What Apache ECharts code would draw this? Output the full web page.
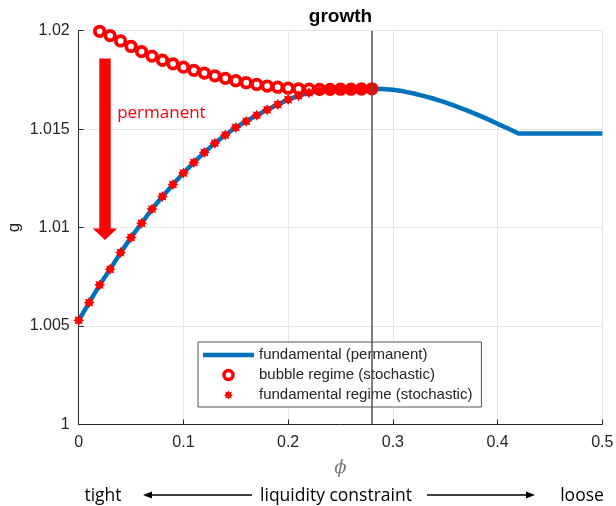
<!DOCTYPE html>
<html>
<head>
<meta charset="utf-8">
<script src="https://cdn.jsdelivr.net/npm/echarts@6/dist/echarts.min.js"></script>
<style>
html,body{margin:0;padding:0;background:#fff;}
#chart{width:616px;height:506px;}
</style>
</head>
<body>
<div id="chart"></div>
<script>
// ---- data ----
const phiFund = [0,0.01,0.02,0.03,0.04,0.05,0.06,0.07,0.08,0.09,0.10,0.11,0.12,0.13,0.14,0.15,0.16,0.17,0.18,0.19,0.20,0.21,0.22,0.23,0.24,0.25,0.26,0.27,0.28];
const gFundStoch = [1.00529,1.00619,1.00709,1.00788,1.00873,1.00950,1.01022,1.01094,1.01158,1.01219,1.01277,1.01331,1.01382,1.01429,1.01470,1.01509,1.01540,1.01570,1.01598,1.01625,1.01650,1.01670,1.01685,1.01695,1.01700,1.01703,1.01704,1.01705,1.01705];
const phiBubble = [0.02,0.03,0.04,0.05,0.06,0.07,0.08,0.09,0.10,0.11,0.12,0.13,0.14,0.15,0.16,0.17,0.18,0.19,0.20,0.21,0.22,0.23,0.24,0.25,0.26,0.27,0.28];
const gBubble = [1.01997,1.01975,1.01948,1.01920,1.01894,1.01871,1.01850,1.01832,1.01815,1.01799,1.01785,1.01771,1.01758,1.01746,1.01736,1.01727,1.01719,1.01713,1.01708,1.01705,1.01703,1.01702,1.01702,1.01703,1.01703,1.01704,1.01705];
const phiPerm = [0,0.01,0.02,0.03,0.04,0.05,0.06,0.07,0.08,0.09,0.10,0.11,0.12,0.13,0.14,0.15,0.16,0.17,0.18,0.19,0.20,0.21,0.22,0.23,0.24,0.25,0.26,0.27,0.28,0.29,0.30,0.31,0.32,0.33,0.34,0.35,0.36,0.37,0.38,0.39,0.40,0.41,0.42,0.43,0.44,0.45,0.46,0.47,0.48,0.49,0.50];
const gPerm = [1.00529,1.00619,1.00709,1.00788,1.00873,1.00950,1.01022,1.01094,1.01158,1.01219,1.01277,1.01331,1.01382,1.01429,1.01470,1.01509,1.01540,1.01570,1.01598,1.01625,1.01650,1.01670,1.01685,1.01695,1.01700,1.01703,1.01704,1.01705,1.01705,1.01704,1.01700,1.01692,1.01681,1.01668,1.01653,1.01636,1.01617,1.01597,1.01575,1.01552,1.01527,1.01503,1.01478,1.01478,1.01478,1.01478,1.01478,1.01478,1.01478,1.01478,1.01478];
const thresholdPhi = 0.28;
const seriesNames = ['fundamental (permanent)','bubble regime (stochastic)','fundamental regime (stochastic)'];
const xTicks = [0,0.1,0.2,0.3,0.4,0.5];
const yTicks = [1,1.005,1.01,1.015,1.02];
// annotation anchor (data coords)
const arrowPhi = 0.0251, arrowTop = 1.01859, arrowHeadBase = 1.00996, arrowTip = 1.00937;
const permLabelPhi = 0.0367, permLabelG = 1.01581;

// star ("*") marker path
function starPath(){
  let s = 'path://';
  for (let k=0;k<16;k++){
    const a = k*Math.PI/8 - Math.PI/2;
    const r = (k%2===0) ? 10 : 6.4;
    s += (k===0?'M':'L') + (10+r*Math.cos(a)).toFixed(2) + ' ' + (10+r*Math.sin(a)).toFixed(2) + ' ';
  }
  return s + 'Z';
}
const STAR = starPath();

const chart = echarts.init(document.getElementById('chart'), null, {renderer:'canvas'});
const axisColor = '#262626';
const fontMain = 'Liberation Sans, Arial, sans-serif';

chart.setOption({
  animation:false,
  backgroundColor:'#ffffff',
  grid:{left:78.7, right:13.7, top:30.7, bottom:81.5, containLabel:false, outerBoundsMode:'none'},
  xAxis:{
    type:'value', min:0, max:0.5, interval:0.1,
    name:'ϕ', nameLocation:'middle', nameGap:35, nameMoveOverlap:false,
    nameTextStyle:{fontFamily:'DejaVu Serif', fontStyle:'italic', fontSize:18, color:'#777'},
    axisLine:{lineStyle:{color:axisColor, width:1}},
    axisTick:{inside:true, length:5, lineStyle:{color:axisColor}},
    axisLabel:{fontSize:16, color:axisColor, fontFamily:fontMain, margin:10,
      formatter:v=>{const t=xTicks.find(x=>Math.abs(x-v)<1e-9); return t===undefined?'':String(t);}},
    splitLine:{show:true, lineStyle:{color:'#e6e6e6', width:1}}
  },
  yAxis:{
    type:'value', min:1, max:1.02, interval:0.005,
    name:'g', nameLocation:'middle', nameGap:56, nameRotate:90, nameMoveOverlap:false,
    nameTextStyle:{fontFamily:fontMain, fontSize:17, color:axisColor},
    axisLine:{show:true, lineStyle:{color:axisColor, width:1}},
    axisTick:{show:true, inside:true, length:5, lineStyle:{color:axisColor}},
    axisLabel:{fontSize:16, color:axisColor, fontFamily:fontMain, margin:9,
      formatter:v=>{const t=yTicks.find(y=>Math.abs(y-v)<1e-9); return t===undefined?'':String(t);}},
    splitLine:{show:true, lineStyle:{color:'#e6e6e6', width:1}}
  },
  legend:{
    orient:'vertical', left:198, top:342,
    backgroundColor:'#ffffff', borderColor:'#555', borderWidth:1,
    padding:[5,9,4,5], itemGap:4, itemWidth:51, itemHeight:9,
    textStyle:{fontSize:15, color:axisColor, fontFamily:fontMain, lineHeight:16},
    data:[
      {name:seriesNames[0], icon:'path://M0 0 L51 0 L51 4.5 L0 4.5 Z', itemStyle:{color:'#0072BD'}},
      {name:seriesNames[1], icon:'circle', itemStyle:{color:'#ffffff', borderColor:'#ff0000', borderWidth:3.5}},
      {name:seriesNames[2]}
    ]
  },
  series:[
    {
      name:seriesNames[0], type:'line',
      data:phiPerm.map((p,i)=>[p,gPerm[i]]),
      showSymbol:false, symbol:'none',
      lineStyle:{color:'#0072BD', width:4.5},
      itemStyle:{color:'#0072BD'},
      z:2,
      markLine:{
        silent:true, symbol:'none', label:{show:false},
        lineStyle:{color:'#555', width:1.5, type:'solid'},
        data:[{xAxis:thresholdPhi}]
      }
    },
    {
      name:seriesNames[1], type:'scatter',
      data:phiBubble.map((p,i)=>[p,gBubble[i]]),
      symbol:'circle', symbolSize:9.5,
      itemStyle:{color:'#ffffff', borderColor:'#ff0000', borderWidth:3.8, opacity:1},
      z:3
    },
    {
      name:seriesNames[2], type:'scatter',
      data:phiFund.map((p,i)=>[p,gFundStoch[i]]),
      symbol:STAR, symbolSize:11,
      itemStyle:{color:'#ff0000', opacity:1},
      z:4
    }
  ]
});

// annotations in data coordinates
const pTop = chart.convertToPixel({gridIndex:0},[arrowPhi, arrowTop]);
const pBase = chart.convertToPixel({gridIndex:0},[arrowPhi, arrowHeadBase]);
const pTip = chart.convertToPixel({gridIndex:0},[arrowPhi, arrowTip]);
const pLab = chart.convertToPixel({gridIndex:0},[permLabelPhi, permLabelG]);
const cx = pTop[0], sw = 5.7, hw = 12.2;

chart.setOption({
  graphic:[
    {type:'polygon', z:10, shape:{points:[[cx-sw,pTop[1]],[cx+sw,pTop[1]],[cx+sw,pBase[1]],[cx+hw,pBase[1]],[cx,pTip[1]],[cx-hw,pBase[1]],[cx-sw,pBase[1]]]}, style:{fill:'#ff0000'}},
    {type:'text', z:10, x:pLab[0], y:pLab[1], style:{text:'permanent', fill:'#ff0000', font:'17px "Open Sans"', textAlign:'left', textVerticalAlign:'middle'}},
    {type:'text', z:10, x:340.5, y:17, style:{text:'growth', fill:'#000', font:'bold 19px "Liberation Sans"', textAlign:'center', textVerticalAlign:'middle'}},
    {type:'text', z:10, x:103, y:496, style:{text:'tight', fill:'#000', font:'17.5px "Open Sans"', textAlign:'center', textVerticalAlign:'middle'}},
    {type:'text', z:10, x:336, y:496, style:{text:'liquidity constraint', fill:'#000', font:'17.5px "Open Sans"', textAlign:'center', textVerticalAlign:'middle'}},
    {type:'text', z:10, x:582, y:496, style:{text:'loose', fill:'#000', font:'17.5px "Open Sans"', textAlign:'center', textVerticalAlign:'middle'}},
    {type:'line', z:10, shape:{x1:150, y1:495, x2:252, y2:495}, style:{stroke:'#000', lineWidth:1.5}},
    {type:'polygon', z:10, shape:{points:[[143,495],[152,491.5],[152,498.5]]}, style:{fill:'#000'}},
    {type:'line', z:10, shape:{x1:427, y1:495, x2:528, y2:495}, style:{stroke:'#000', lineWidth:1.5}},
    {type:'polygon', z:10, shape:{points:[[535,495],[526,491.5],[526,498.5]]}, style:{fill:'#000'}}
  ]
});
</script>
</body>
</html>
